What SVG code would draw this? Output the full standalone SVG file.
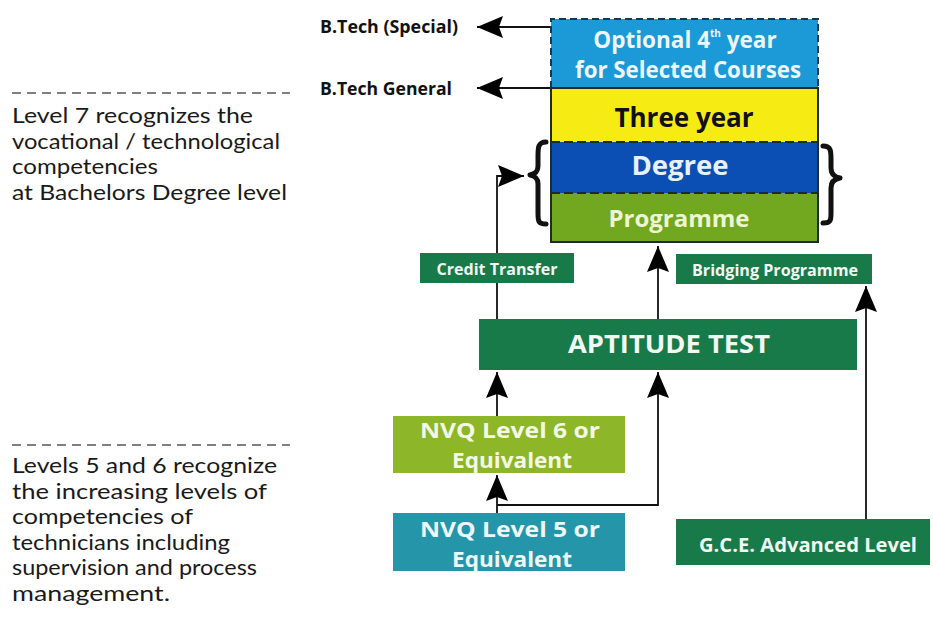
<svg xmlns="http://www.w3.org/2000/svg" width="933" height="635" viewBox="0 0 933 635">
<defs>
<style>
text{font-family:"Open Sans","Liberation Sans",sans-serif;}
.b{font-weight:bold;text-anchor:middle;}
.note{font-family:Lato,"Open Sans",sans-serif;font-size:21px;fill:#1a1a1a;}
.lbl{font-size:17px;font-weight:bold;fill:#111;}
.dg{fill:#177a48;}
.line{fill:none;stroke:#111;stroke-width:1.8;}
.dash{stroke:#555;stroke-width:1.5;stroke-dasharray:9 6;}
.brace{fill:none;stroke:#111;stroke-width:5;stroke-linecap:round;stroke-linejoin:round;}
</style>
<marker id="ah" markerUnits="userSpaceOnUse" markerWidth="27" markerHeight="22" refX="26" refY="11" orient="auto">
<path d="M0,0 L26,11 L0,22 L4,11 z" fill="#000"/>
</marker>
</defs>
<rect width="933" height="635" fill="#fff"/>

<g id="notes">
<line class="dash" x1="12" y1="93" x2="290" y2="93"/>
<text class="note" x="12" y="123" textLength="241" lengthAdjust="spacingAndGlyphs">Level 7 recognizes the</text>
<text class="note" x="12" y="149" textLength="268" lengthAdjust="spacingAndGlyphs">vocational / technological</text>
<text class="note" x="12" y="174" textLength="146" lengthAdjust="spacingAndGlyphs">competencies</text>
<text class="note" x="12" y="200" textLength="275" lengthAdjust="spacingAndGlyphs">at Bachelors Degree level</text>
<line class="dash" x1="12" y1="445" x2="290" y2="445"/>
<text class="note" x="12" y="473" textLength="265" lengthAdjust="spacingAndGlyphs">Levels 5 and 6 recognize</text>
<text class="note" x="12" y="499" textLength="255" lengthAdjust="spacingAndGlyphs">the increasing levels of</text>
<text class="note" x="12" y="524" textLength="181" lengthAdjust="spacingAndGlyphs">competencies of</text>
<text class="note" x="12" y="550" textLength="218" lengthAdjust="spacingAndGlyphs">technicians including</text>
<text class="note" x="12" y="575" textLength="245" lengthAdjust="spacingAndGlyphs">supervision and process</text>
<text class="note" x="12" y="601" textLength="158" lengthAdjust="spacingAndGlyphs">management.</text>
</g>

<g id="connectors">
<line class="line" x1="550" y1="27" x2="477" y2="27" marker-end="url(#ah)"/>
<line class="line" x1="550" y1="88" x2="477" y2="88" marker-end="url(#ah)"/>
<polyline class="line" points="497,319 497,176 524,176" marker-end="url(#ah)"/>
<line class="line" x1="658" y1="319" x2="658" y2="246" marker-end="url(#ah)"/>
<line class="line" x1="866" y1="519" x2="866" y2="286" marker-end="url(#ah)"/>
<line class="line" x1="497" y1="416" x2="497" y2="372" marker-end="url(#ah)"/>
<line class="line" x1="497" y1="513" x2="497" y2="475" marker-end="url(#ah)"/>
<polyline class="line" points="497,505 658,505 658,372" marker-end="url(#ah)"/>
</g>

<g id="btech-special"><text class="lbl" x="320" y="33" textLength="138" lengthAdjust="spacingAndGlyphs">B.Tech (Special)</text></g>
<g id="btech-general"><text class="lbl" x="320" y="95" textLength="132" lengthAdjust="spacingAndGlyphs">B.Tech General</text></g>

<g id="degree-stack">
<rect x="551" y="19" width="267" height="69" fill="#1b9ad7"/>
<rect x="551" y="88" width="267" height="54" fill="#f6ec14"/>
<rect x="551" y="142" width="267" height="51" fill="#0c4fb4"/>
<rect x="551" y="193" width="267" height="49" fill="#72a81f"/>
<path d="M551,88 V19 H818 V88" fill="none" stroke="#1a3550" stroke-width="2" stroke-dasharray="7 4"/>
<path d="M551,88 V242 H818 V88 Z" fill="none" stroke="#1d2b2b" stroke-width="2"/>
<line x1="551" y1="142" x2="818" y2="142" stroke="#1d2b2b" stroke-width="2" stroke-dasharray="9 4"/>
<line x1="551" y1="193" x2="818" y2="193" stroke="#1d2b2b" stroke-width="2" stroke-dasharray="9 4"/>
<text class="b" x="685" y="48" font-size="22.5" fill="#eef6fb">Optional 4<tspan font-size="10" dy="-11">th</tspan><tspan dy="11"> year</tspan></text>
<text class="b" x="688" y="78" font-size="22.5" fill="#eef6fb" textLength="226" lengthAdjust="spacingAndGlyphs">for Selected Courses</text>
<text class="b" x="684" y="127" font-size="26" fill="#111">Three year</text>
<text class="b" x="680" y="175" font-size="27.5" fill="#e8f1fb">Degree</text>
<text class="b" x="679" y="227" font-size="24" fill="#eef5d6">Programme</text>
</g>

<g id="braces">
<path class="brace" d="M546,142 C538,142 538,148 538,156 L538,166 C538,172 535,174 530,175 C535,176 538,178 538,184 L538,213 C538,221 538,224 546,224"/>
<path class="brace" d="M823,146 C831,146 831,151 831,159 L831,168 C831,174 834,177 840,178 C834,179 831,182 831,188 L831,213 C831,220 831,223 823,223"/>
</g>

<g id="credit-transfer">
<rect class="dg" x="420" y="253" width="154" height="30"/>
<text class="b" x="497" y="275" font-size="16" fill="#f2f8f4" textLength="121" lengthAdjust="spacingAndGlyphs">Credit Transfer</text>
</g>
<g id="bridging-programme">
<rect class="dg" x="676" y="254" width="196" height="30"/>
<text class="b" x="775" y="276" font-size="16" fill="#f2f8f4" textLength="166" lengthAdjust="spacingAndGlyphs">Bridging Programme</text>
</g>
<g id="aptitude-test">
<rect class="dg" x="479" y="319" width="378" height="51"/>
<text class="b" x="669" y="353" font-size="25" fill="#f2f8f4" textLength="202" lengthAdjust="spacingAndGlyphs">APTITUDE TEST</text>
</g>
<g id="nvq6">
<rect x="393" y="416" width="232" height="57" fill="#8db628"/>
<text class="b" x="510" y="438" font-size="22" fill="#f4f9e6" textLength="180" lengthAdjust="spacingAndGlyphs">NVQ Level 6 or</text>
<text class="b" x="512" y="468" font-size="22" fill="#f4f9e6" textLength="120" lengthAdjust="spacingAndGlyphs">Equivalent</text>
</g>
<g id="nvq5">
<rect x="393" y="513" width="232" height="58" fill="#2596a9"/>
<text class="b" x="510" y="537" font-size="22" fill="#eef8fa" textLength="180" lengthAdjust="spacingAndGlyphs">NVQ Level 5 or</text>
<text class="b" x="512" y="567" font-size="22" fill="#eef8fa" textLength="120" lengthAdjust="spacingAndGlyphs">Equivalent</text>
</g>
<g id="gce">
<rect class="dg" x="676" y="519" width="254" height="46"/>
<text class="b" x="808" y="552" font-size="20" fill="#f2f8f4" textLength="218" lengthAdjust="spacingAndGlyphs">G.C.E. Advanced Level</text>
</g>
</svg>
